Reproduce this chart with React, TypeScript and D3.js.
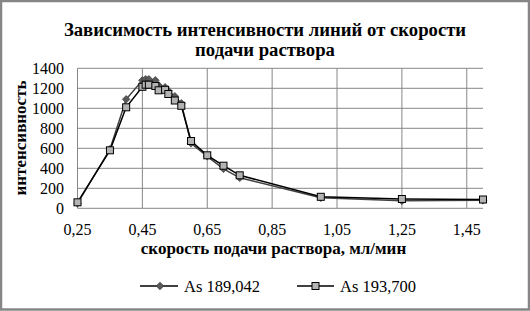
import React from "react";
import * as d3 from "d3";

const speeds = [0.25, 0.35, 0.4, 0.45, 0.46, 0.47, 0.49, 0.5, 0.52, 0.53, 0.55, 0.57, 0.6, 0.65, 0.7, 0.75, 1.0, 1.25, 1.5];
const as189 = [50, 590, 1090, 1280, 1290, 1290, 1280, 1230, 1210, 1175, 1120, 1050, 650, 520, 395, 305, 105, 75, 80];
const as193 = [60, 580, 1010, 1215, 1236, 1236, 1223, 1180, 1185, 1143, 1078, 1025, 673, 530, 426, 330, 115, 93, 88];
const xTicks = [0.25, 0.45, 0.65, 0.85, 1.05, 1.25, 1.45];
const yTicks = [0, 200, 400, 600, 800, 1000, 1200, 1400];
const seriesNames = ["As 189,042", "As 193,700"];

const W = 530;
const H = 311;
const FONT = "Liberation Serif, Times New Roman, DejaVu Serif, serif";
const ts: React.CSSProperties = { fontFamily: FONT };

export default function App() {
  const x = d3.scaleLinear().domain([0.25, 1.5]).range([77.5, 483]);
  const y = d3.scaleLinear().domain([0, 1400]).range([208.3, 68.3]);
  const line = d3
    .line<[number, number]>()
    .x((d) => x(d[0]))
    .y((d) => y(d[1]));
  const s1 = speeds.map((s, i) => [s, as189[i]] as [number, number]);
  const s2 = speeds.map((s, i) => [s, as193[i]] as [number, number]);
  const fmt = (v: number) => v.toFixed(2).replace(".", ",");
  const diamond = (cx: number, cy: number, r = 3.8) =>
    `M${cx},${cy - r}L${cx + r},${cy}L${cx},${cy + r}L${cx - r},${cy}Z`;
  const grid = "#878787";

  return (
    <svg
      width={W}
      height={H}
      style={{ position: "absolute", left: 0, top: 0, background: "#fff", fontFamily: FONT }}
    >
      <rect x={1} y={1} width={W - 2} height={H - 2.5} fill="#fff" stroke="#868686" strokeWidth={2.5} />
      <text x={265} y={36} textAnchor="middle" fontWeight="bold" fontSize={18.7} fill="#000" style={ts}>
        Зависимость интенсивности линий от скорости
      </text>
      <text x={265} y={56} textAnchor="middle" fontWeight="bold" fontSize={18.7} fill="#000" style={ts}>
        подачи раствора
      </text>
      {yTicks.map((t) => (
        <g key={"y" + t}>
          <line x1={x(0.25)} x2={x(1.5)} y1={y(t)} y2={y(t)} stroke={grid} strokeWidth={1} />
          <text x={64} y={y(t) + 5.5} textAnchor="end" fontSize={16} fill="#000" style={ts}>
            {t}
          </text>
        </g>
      ))}
      {xTicks.map((t) => (
        <g key={"x" + t}>
          <line x1={x(t)} x2={x(t)} y1={y(0)} y2={y(1400)} stroke={grid} strokeWidth={1} />
          <text x={x(t)} y={235} textAnchor="middle" fontSize={16} fill="#000" style={ts}>
            {fmt(t)}
          </text>
        </g>
      ))}
      <text x={273.5} y={254} textAnchor="middle" fontWeight="bold" fontSize={17} fill="#000" style={ts}>
        скорость подачи раствора, мл/мин
      </text>
      <text
        transform={`translate(26,138) rotate(-90)`}
        textAnchor="middle"
        fontWeight="bold"
        fontSize={17}
        fill="#000"
        style={ts}
      >
        интенсивность
      </text>
      <path d={line(s1) || ""} fill="none" stroke="#404040" strokeWidth={1.5} />
      {s1.map((d, i) => (
        <path key={"d" + i} d={diamond(x(d[0]), y(d[1]))} fill="#595959" stroke="#404040" strokeWidth={0.75} />
      ))}
      <path d={line(s2) || ""} fill="none" stroke="#000" strokeWidth={1.5} />
      {s2.map((d, i) => (
        <rect
          key={"s" + i}
          x={x(d[0]) - 3.5}
          y={y(d[1]) - 3.5}
          width={7}
          height={7}
          fill="#b3b3b3"
          stroke="#000"
          strokeWidth={1}
        />
      ))}
      <g>
        <line x1={140} x2={178} y1={286} y2={286} stroke="#000" strokeWidth={1.5} />
        <path d={diamond(160, 286)} fill="#595959" stroke="#404040" strokeWidth={0.75} />
        <text x={184} y={291.5} fontSize={16.5} fill="#000" style={ts}>
          {seriesNames[0]}
        </text>
        <line x1={297} x2={334} y1={286} y2={286} stroke="#000" strokeWidth={1.5} />
        <rect x={312} y={282.5} width={7} height={7} fill="#b3b3b3" stroke="#000" strokeWidth={1} />
        <text x={340} y={291.5} fontSize={16.5} fill="#000" style={ts}>
          {seriesNames[1]}
        </text>
      </g>
    </svg>
  );
}
